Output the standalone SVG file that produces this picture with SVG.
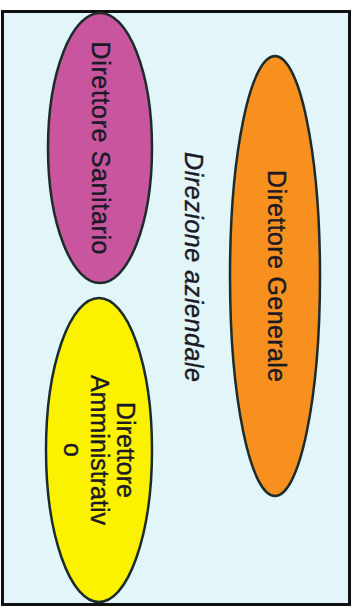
<svg xmlns="http://www.w3.org/2000/svg" width="356" height="609" viewBox="0 0 356 609">
<style>
.node{stroke:#1c2b2b;stroke-width:2.5}
.lbl{font-family:"Liberation Sans","Open Sans",sans-serif;font-size:25px;fill:#1a1a26;stroke:#1a1a26;stroke-width:0.4;text-anchor:middle}
.it{font-style:italic}
</style>
<rect x="0" y="0" width="356" height="609" fill="#ffffff"/>
<rect x="2.5" y="11.5" width="347" height="593" fill="#e2f5f8" stroke="#111" stroke-width="3"/>
<text class="lbl it" transform="translate(193,267) rotate(90)" x="0" y="8" textLength="230" lengthAdjust="spacing">Direzione aziendale</text>
<g id="sanitario">
<ellipse class="node" cx="100" cy="148" rx="52" ry="135" fill="#c9559f"/>
<text class="lbl" transform="translate(100,148) rotate(90)" x="0" y="8" textLength="213" lengthAdjust="spacing">Direttore Sanitario</text>
</g>
<g id="generale">
<ellipse class="node" cx="275" cy="276" rx="45" ry="220" fill="#f7901e"/>
<text class="lbl" transform="translate(276,276) rotate(90)" x="0" y="8" textLength="212" lengthAdjust="spacing">Direttore Generale</text>
</g>
<g id="amministrativo">
<ellipse class="node" cx="99" cy="450" rx="53" ry="152" fill="#fbf200"/>
<text class="lbl" transform="translate(99,450) rotate(90)" x="0" y="-18">Direttore</text>
<text class="lbl" transform="translate(99,450) rotate(90)" x="0" y="8">Amministrativ</text>
<text class="lbl" transform="translate(99,450) rotate(90)" x="0" y="35">o</text>
</g>
<g id="connectors"/>
</svg>
